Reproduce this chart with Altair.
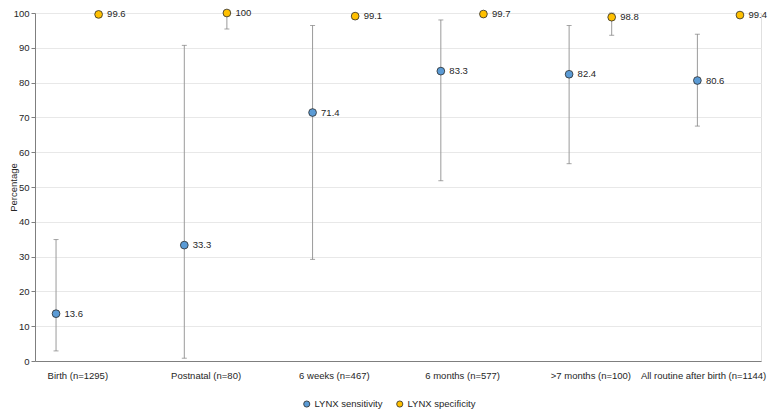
import json
import altair as alt
import pandas as pd

categories = ["Birth (n=1295)", "Postnatal (n=80)", "6 weeks (n=467)",
              "6 months (n=577)", ">7 months (n=100)", "All routine after birth (n=1144)"]
series_names = ["LYNX sensitivity", "LYNX specificity"]

sensitivity = [13.6, 33.3, 71.4, 83.3, 82.4, 80.6]
sens_low = [2.9, 0.8, 29.2, 51.8, 56.7, 67.5]
sens_high = [34.9, 90.7, 96.4, 98.0, 96.4, 93.9]

specificity = [99.6, 100, 99.1, 99.7, 98.8, 99.4]
spec_low = [99.1, 95.4, 98.3, 99.0, 93.6, 98.7]
spec_high = [99.9, 100, 99.7, 100, 100, 99.8]

rows = []
for i, c in enumerate(categories):
    rows.append(dict(idx=i, category=c, series=series_names[0], value=sensitivity[i],
                     lo=sens_low[i], hi=sens_high[i], label=f"{sensitivity[i]:g}"))
    rows.append(dict(idx=i, category=c, series=series_names[1], value=specificity[i],
                     lo=spec_low[i], hi=spec_high[i], label=f"{specificity[i]:g}"))
df = pd.DataFrame(rows)

FONT = "Liberation Sans"
label_expr = "[" + ",".join(json.dumps(c) for c in categories) + "][datum.value]"

base = alt.Chart(df).transform_calculate(
    xpos="datum.idx + (datum.series == 'LYNX sensitivity' ? -0.166 : 0.166)"
)

x_enc = alt.X(
    "xpos:Q",
    scale=alt.Scale(domain=[-0.33, 5.33], nice=False, zero=False),
    axis=alt.Axis(
        values=[0, 1, 2, 3, 4, 5],
        labelExpr=label_expr,
        title=None,
        grid=False,
        ticks=False,
        labelFlush=False,
        labelOverlap=False,
        labelPadding=9,
        labelFontSize=9.5,
        labelColor="#262626",
        labelAlign=alt.ExprRef(expr="datum.value == 5 ? 'right' : 'center'"),
        labelOffset=alt.ExprRef(expr="datum.value == 5 ? 47 : 0"),
        domainColor="#7f7f7f",
        domainWidth=1,
    ),
)

y_scale = alt.Scale(domain=[0, 100], nice=False)
y_axis = alt.Axis(
    values=list(range(0, 101, 10)),
    title="Percentage",
    titleFontSize=9.5,
    titleFontWeight="normal",
    titleColor="#262626",
    titleX=-17,
    titleY=174,
    titleBaseline="bottom",
    labelFontSize=9.5,
    labelColor="#262626",
    labelPadding=2,
    tickSize=4,
    tickColor="#7f7f7f",
    domainColor="#7f7f7f",
    gridColor="#e8e8e8",
    gridWidth=1,
)

rules = base.mark_rule(color="#9a9a9a", strokeWidth=1).encode(
    x=x_enc,
    y=alt.Y("lo:Q", scale=y_scale, axis=y_axis),
    y2="hi:Q",
)
caps_lo = base.mark_tick(orient="horizontal", size=5, thickness=1, color="#7f7f7f").encode(
    x=x_enc, y=alt.Y("lo:Q", scale=y_scale, axis=y_axis)
)
caps_hi = base.mark_tick(orient="horizontal", size=5, thickness=1, color="#7f7f7f").encode(
    x=x_enc, y=alt.Y("hi:Q", scale=y_scale, axis=y_axis)
)
points = base.mark_circle(size=60, opacity=1, stroke="#2b2b2b", strokeWidth=0.8).encode(
    x=x_enc,
    y=alt.Y("value:Q", scale=y_scale, axis=y_axis),
    color=alt.Color(
        "series:N",
        scale=alt.Scale(domain=series_names, range=["#5B9BD5", "#FFC000"]),
        legend=alt.Legend(
            title=None,
            orient="none",
            legendX=267,
            legendY=386,
            direction="horizontal",
            symbolType="circle",
            symbolSize=38,
            symbolStrokeColor="#2b2b2b",
            symbolStrokeWidth=0.8,
            labelFontSize=9.5,
            labelColor="#262626",
            labelOffset=3,
            columnPadding=12,
        ),
    ),
)
texts = base.mark_text(align="left", baseline="middle", dx=8.5, fontSize=9.5, color="#262626").encode(
    x=x_enc,
    y=alt.Y("value:Q", scale=y_scale, axis=y_axis),
    text="label:N",
)

chart = (
    alt.layer(rules, caps_lo, caps_hi, points, texts)
    .properties(
        width=726,
        height=348,
        autosize=alt.AutoSizeParams(type="none"),
        padding={"left": 27, "top": 5, "right": 9, "bottom": 49},
        background="white",
    )
    .configure(font=FONT)
    .configure_view(stroke="#e0e0e0", strokeWidth=1)
)

chart.save("out.html", embed_options={"renderer": "svg", "actions": False})
